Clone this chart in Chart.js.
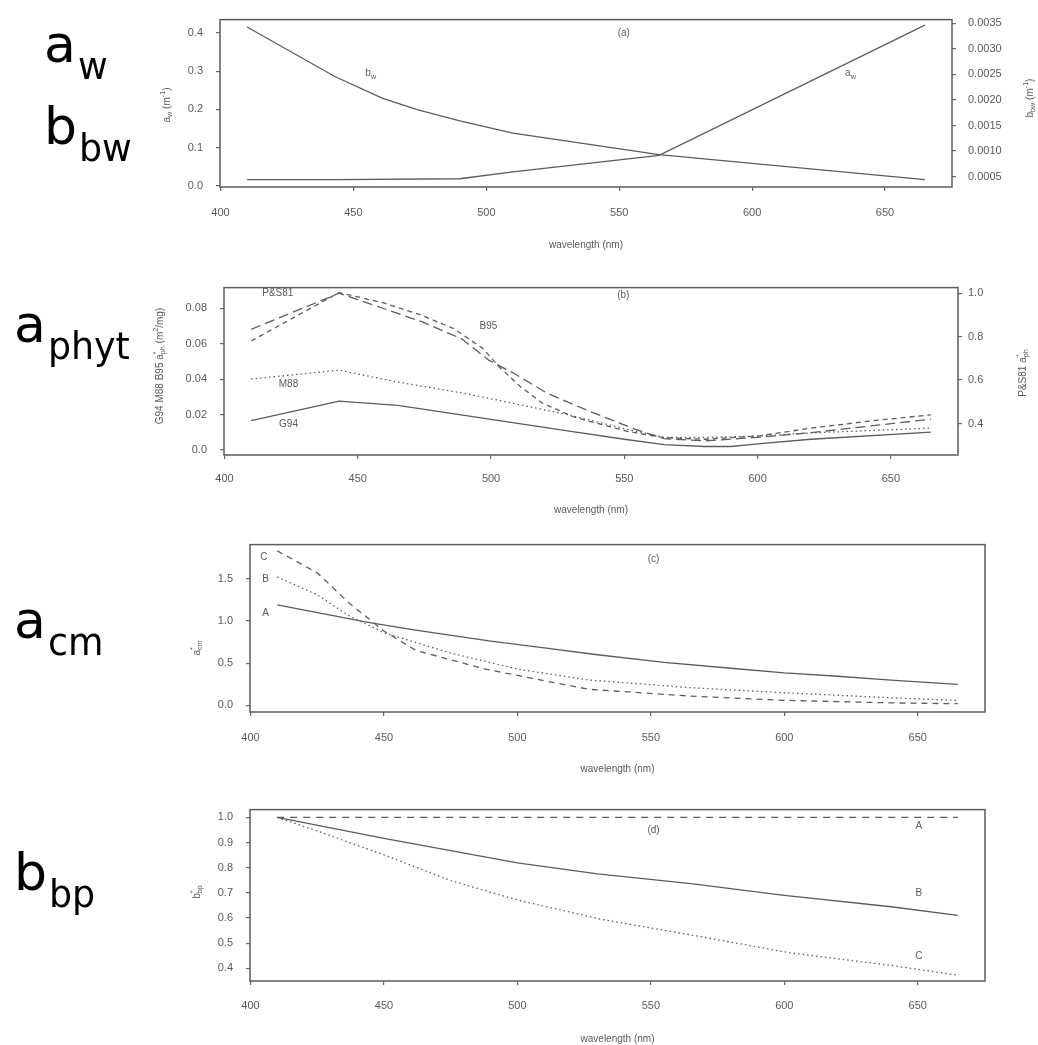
<!DOCTYPE html>
<html>
<head>
<meta charset="utf-8">
<script src="https://cdn.jsdelivr.net/npm/chart.js@4.4.1/dist/chart.umd.min.js"></script>
<style>
body{margin:0;background:#fff;width:1038px;height:1045px;position:relative;overflow:hidden}
canvas{position:absolute;left:0}
.big{position:absolute;font-family:'DejaVu Sans',sans-serif;font-size:52px;line-height:52px;color:#000;white-space:nowrap}
.big sub{font-size:0.7em;position:relative;top:0.48em;vertical-align:baseline;margin-left:2px}
</style>
</head>
<body>
<canvas id="panel_a" width="1038" height="262" style="top:0px"></canvas>
<canvas id="panel_b" width="1038" height="262" style="top:268px"></canvas>
<canvas id="panel_c" width="1038" height="265" style="top:525px"></canvas>
<canvas id="panel_d" width="1038" height="255" style="top:790px"></canvas>

<div class="big" style="left:44px;top:18px">a<sub>w</sub></div>
<div class="big" style="left:44px;top:100px">b<sub>bw</sub></div>
<div class="big" style="left:14px;top:298px">a<sub>phyt</sub></div>
<div class="big" style="left:14px;top:594px">a<sub>cm</sub></div>
<div class="big" style="left:14px;top:846px">b<sub>bp</sub></div>

<script>
// (a) pure water absorption (left axis) and backscattering (right axis)
const awWl = [410, 443, 490, 510, 565, 665];
const awVal = [0.017, 0.017, 0.019, 0.037, 0.080, 0.420];
const bbwWl = [410, 443, 461, 474, 490, 510, 565, 665];
const bbwVal = [0.00343, 0.00246, 0.00203, 0.00181, 0.00159, 0.00135, 0.00093, 0.00044];

// (b) phytoplankton specific absorption
const g94Wl = [410, 443, 465, 490, 510, 530, 550, 565, 580, 590, 600, 620, 665];
const g94Val = [0.0165, 0.0276, 0.0252, 0.0195, 0.0150, 0.0105, 0.0060, 0.0030, 0.0019, 0.0019, 0.0034, 0.0060, 0.0100];
const m88Wl = [410, 443, 465, 490, 510, 530, 550, 565, 580, 600, 620, 665];
const m88Val = [0.0401, 0.0451, 0.0383, 0.0320, 0.0258, 0.0195, 0.0120, 0.0070, 0.0070, 0.0078, 0.0096, 0.0123];
const b95Wl = [410, 443, 460, 474, 486, 497, 503, 511, 519, 531, 551, 565, 580, 600, 620, 645, 665];
const b95Val = [0.0616, 0.0890, 0.0830, 0.0761, 0.0686, 0.0573, 0.0470, 0.0358, 0.0267, 0.0186, 0.0105, 0.0069, 0.0060, 0.0078, 0.0123, 0.0168, 0.0198];
const ps81Wl = [410, 443, 474, 489, 499, 509, 521, 536, 554, 565, 580, 600, 620, 665];
const ps81Val = [0.834, 1.0, 0.869, 0.790, 0.693, 0.628, 0.540, 0.461, 0.374, 0.330, 0.320, 0.336, 0.358, 0.420];

// (c) CDOM + detritus absorption, cases A B C
const cmAWl = [410, 430, 443, 460, 490, 510, 530, 555, 580, 600, 620, 640, 665];
const cmAVal = [1.19, 1.07, 0.99, 0.90, 0.76, 0.68, 0.60, 0.51, 0.44, 0.385, 0.345, 0.30, 0.25];
const cmBWl = [410, 425, 437, 450, 475, 500, 527, 565, 600, 640, 665];
const cmBVal = [1.52, 1.31, 1.06, 0.86, 0.62, 0.43, 0.30, 0.21, 0.15, 0.09, 0.06];
const cmCWl = [410, 425, 437, 450, 462, 488, 512, 527, 565, 600, 640, 665];
const cmCVal = [1.83, 1.57, 1.21, 0.88, 0.65, 0.43, 0.28, 0.19, 0.11, 0.06, 0.03, 0.02];

// (d) particle backscattering, cases A B C
const bpAWl = [410, 665];
const bpAVal = [1.0, 1.0];
const bpBWl = [410, 450, 500, 530, 565, 600, 640, 665];
const bpBVal = [1.0, 0.917, 0.819, 0.776, 0.737, 0.690, 0.645, 0.611];
const bpCWl = [410, 425, 450, 475, 500, 531, 565, 602, 640, 665];
const bpCVal = [1.0, 0.946, 0.851, 0.749, 0.672, 0.596, 0.533, 0.462, 0.412, 0.373];

const lineCol = '#5c5c5c';
const txtCol = '#5a5a5a';
const tickFont = {family: 'Liberation Sans', size: 11};

function pts(wl, val){
    let out = []
    for(let i=0;i<wl.length;i++){
        out.push({x: wl[i], y: val[i]})
    }
    return out
}

function line(wl, val, dash, axis){
    return {
        data: pts(wl, val),
        borderColor: lineCol,
        borderWidth: 1.3,
        borderDash: dash || [],
        pointRadius: 0,
        tension: 0,
        yAxisID: axis || 'y'
    }
}

// text with sub / superscripts: parts = [text, 'sub'|'sup', keepX]
function drawRich(ctx, parts, x, y, size, rot){
    ctx.save()
    ctx.translate(x, y)
    ctx.rotate(rot)
    let w = 0
    parts.forEach(p => {
        ctx.font = (p[1] ? size*0.72 : size) + 'px Liberation Sans'
        if(!p[2]) w += ctx.measureText(p[0]).width
    })
    let cx = -w/2
    ctx.textBaseline = 'middle'
    ctx.textAlign = 'left'
    parts.forEach(p => {
        ctx.font = (p[1] ? size*0.72 : size) + 'px Liberation Sans'
        let dy = p[1] == 'sub' ? size*0.35 : (p[1] == 'sup' ? -size*0.4 : 0)
        ctx.fillText(p[0], cx, dy)
        if(!p[2]) cx += ctx.measureText(p[0]).width
    })
    ctx.restore()
}

const notesPlugin = {
    id: 'notes',
    afterDraw(chart, args, opts){
        const ctx = chart.ctx
        const a = chart.chartArea
        ctx.save()
        ctx.strokeStyle = '#5c5c5c'
        ctx.lineWidth = 1.5
        ctx.strokeRect(a.left, a.top, a.right - a.left, a.bottom - a.top)
        ctx.fillStyle = txtCol
        ;(opts.labels || []).forEach(l => {
            const px = chart.scales.x.getPixelForValue(l.x)
            const py = chart.scales[l.axis || 'y'].getPixelForValue(l.y)
            drawRich(ctx, l.parts, px, py, 10, 0)
        })
        ;(opts.titles || []).forEach(t => {
            drawRich(ctx, t.parts, t.px, t.py, 10, -Math.PI/2)
        })
        ctx.restore()
    }
}

function xScale(h, pad, titlePad){
    return {
        type: 'linear', min: 399.8, max: 675.2,
        afterFit: s => { s.height = h },
        grid: {drawOnChartArea: false, drawTicks: true, tickLength: 4, color: '#666', lineWidth: 1.2},
        border: {display: false},
        ticks: {stepSize: 50, includeBounds: false, padding: pad, color: txtCol, font: tickFont, maxRotation: 0, autoSkip: false},
        title: {display: true, text: 'wavelength (nm)', color: txtCol, font: {family: 'Liberation Sans', size: 10}, padding: {top: 0, bottom: titlePad}}
    }
}

function yScale(pos, w, min, max, step, pad, fmt){
    return {
        type: 'linear', position: pos, min: min, max: max,
        afterFit: s => { s.width = w },
        grid: {drawOnChartArea: false, drawTicks: true, tickLength: 4, color: '#666', lineWidth: 1.2},
        border: {display: false},
        ticks: {stepSize: step, includeBounds: false, padding: pad, color: txtCol, font: tickFont, callback: fmt}
    }
}

function makeChart(id, datasets, scales, padding, notes){
    new Chart(document.getElementById(id), {
        type: 'line',
        data: {datasets: datasets},
        options: {
            responsive: false,
            animation: false,
            layout: {padding: padding},
            scales: scales,
            plugins: {legend: {display: false}, tooltip: {enabled: false}, notes: notes}
        },
        plugins: [notesPlugin]
    })
}

// panel (a)
makeChart('panel_a',
    [line(awWl, awVal, [], 'y'), line(bbwWl, bbwVal, [], 'y2')],
    {
        x: xScale(75, 15, 11),
        y: yScale('left', 220, -0.0025, 0.4346, 0.1, 13, v => v.toFixed(1)),
        y2: yScale('right', 86, 0.000296, 0.003574, 0.0005, 12, v => v.toFixed(4))
    },
    {top: 10, left: 0, right: 0, bottom: 0},
    {
        labels: [
            {x: 551.7, y: 0.40, parts: [['(a)']]},
            {x: 456.5, y: 0.294, parts: [['b'], ['w', 'sub']]},
            {x: 637, y: 0.294, parts: [['a'], ['w', 'sub']]}
        ],
        titles: [
            {px: 167, py: 105, parts: [['a'], ['w', 'sub'], [' (m'], ['-1', 'sup'], [')']]},
            {px: 1030, py: 98, parts: [['b'], ['bw', 'sub'], [' (m'], ['-1', 'sup'], [')']]}
        ]
    })

// panel (b)
makeChart('panel_b',
    [line(g94Wl, g94Val, [], 'y'), line(m88Wl, m88Val, [1.5, 3], 'y'),
     line(b95Wl, b95Val, [5, 4], 'y'), line(ps81Wl, ps81Val, [10, 5], 'y2')],
    {
        x: xScale(75, 13, 14),
        y: yScale('left', 224, -0.0029, 0.0918, 0.02, 13, v => v == 0 ? '0.0' : v.toFixed(2)),
        y2: yScale('right', 80, 0.255, 1.026, 0.2, 6, v => v.toFixed(1))
    },
    {top: 11, left: 0, right: 0, bottom: 0},
    {
        labels: [
            {x: 549.6, y: 0.0874, parts: [['(b)']]},
            {x: 420, y: 0.0885, parts: [['P&S81']]},
            {x: 499, y: 0.0697, parts: [['B95']]},
            {x: 424, y: 0.0374, parts: [['M88']]},
            {x: 424, y: 0.0143, parts: [['G94']]}
        ],
        titles: [
            {px: 160, py: 98, parts: [['G94 M88 B95 a'], ['*', 'sup', 1], ['ph', 'sub'], [' (m'], ['2', 'sup'], ['/mg)']]},
            {px: 1023, py: 105, parts: [['P&S81 a'], ['*', 'sup', 1], ['ph', 'sub']]}
        ]
    })

// panel (c)
makeChart('panel_c',
    [line(cmAWl, cmAVal, []), line(cmBWl, cmBVal, [1.5, 3]), line(cmCWl, cmCVal, [6, 5])],
    {
        x: xScale(78, 15, 15),
        y: yScale('left', 250, -0.078, 1.904, 0.5, 13, v => v.toFixed(1))
    },
    {top: 10, left: 0, right: 53, bottom: 0},
    {
        labels: [
            {x: 551, y: 1.736, parts: [['(c)']]},
            {x: 405, y: 1.76, parts: [['C']]},
            {x: 405.6, y: 1.49, parts: [['B']]},
            {x: 405.6, y: 1.086, parts: [['A']]}
        ],
        titles: [
            {px: 197, py: 123, parts: [['a'], ['*', 'sup', 1], ['cm', 'sub']]}
        ]
    })

// panel (d)
makeChart('panel_d',
    [line(bpAWl, bpAVal, [7, 6]), line(bpBWl, bpBVal, []), line(bpCWl, bpCVal, [1.5, 3])],
    {
        x: xScale(64, 14, 0),
        y: yScale('left', 250, 0.35, 1.031, 0.1, 13, v => v.toFixed(1))
    },
    {top: 13, left: 0, right: 53, bottom: 0},
    {
        labels: [
            {x: 551, y: 0.947, parts: [['(d)']]},
            {x: 650.4, y: 0.966, parts: [['A']]},
            {x: 650.4, y: 0.698, parts: [['B']]},
            {x: 650.4, y: 0.45, parts: [['C']]}
        ],
        titles: [
            {px: 197, py: 102, parts: [['b'], ['*', 'sup', 1], ['bp', 'sub']]}
        ]
    })
</script>
</body>
</html>
